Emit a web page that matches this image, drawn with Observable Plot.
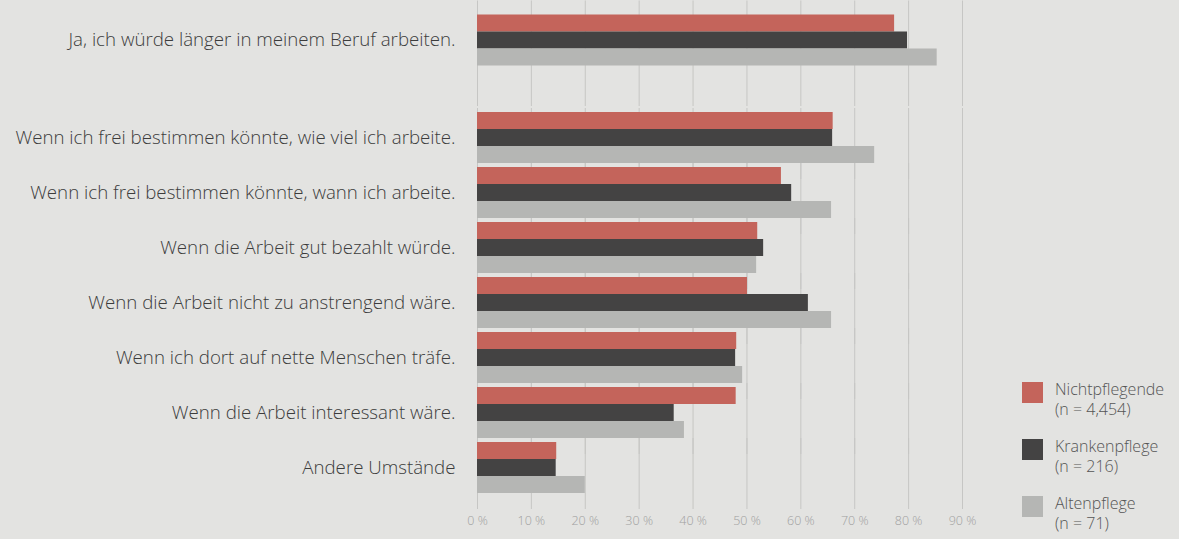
<!DOCTYPE html>
<html><head><meta charset="utf-8">
<script src="https://cdn.jsdelivr.net/npm/d3@7"></script>
<script src="https://cdn.jsdelivr.net/npm/@observablehq/plot@0.6"></script>
<style>
html,body{margin:0;padding:0;background:#e3e3e1;}
#wrap{position:relative;width:1179px;height:539px;overflow:hidden;font-family:"Open Sans",Lato,sans-serif;}
#top,#bottom{position:absolute;left:0;}
#top{top:0}
#bottom{top:106px}
#legend{position:absolute;left:1022px;top:379px;}
.item{display:flex;align-items:flex-start;height:57px;}
.sw{width:21px;height:21px;margin-right:12px;margin-top:3px;flex:none}
.lbl{font-size:16px;line-height:20px;color:#555;font-weight:300;}
</style></head><body>
<div id="wrap"><div id="top"></div><div id="bottom"></div><div id="legend"></div></div>
<script>
const categories = [
  "Ja, ich würde länger in meinem Beruf arbeiten.",
  "Wenn ich frei bestimmen könnte, wie viel ich arbeite.",
  "Wenn ich frei bestimmen könnte, wann ich arbeite.",
  "Wenn die Arbeit gut bezahlt würde.",
  "Wenn die Arbeit nicht zu anstrengend wäre.",
  "Wenn ich dort auf nette Menschen träfe.",
  "Wenn die Arbeit interessant wäre.",
  "Andere Umstände"
];
const series = ["Nichtpflegende", "Krankenpflege", "Altenpflege"];
const seriesN = ["(n = 4,454)", "(n = 216)", "(n = 71)"];
const nichtpflegende = [77.4, 66.0, 56.4, 52.0, 50.1, 48.1, 48.0, 14.7];
const krankenpflege  = [79.8, 65.9, 58.3, 53.1, 61.4, 47.9, 36.5, 14.6];
const altenpflege    = [85.3, 73.7, 65.7, 51.8, 65.7, 49.2, 38.4, 20.0];
const xTicks = [0, 10, 20, 30, 40, 50, 60, 70, 80, 90];
const colors = ["#c4645b", "#444343", "#b5b6b4"];

const values = [nichtpflegende, krankenpflege, altenpflege];
const rows = categories.flatMap((c, i) => series.map((s, j) => ({category: c, series: s, value: values[j][i]})));

function makePlot(cats, height, marginTop, marginBottom, insetTop, insetBottom, showX) {
  const p = Plot.plot({
    width: 990, height, marginLeft: 477, marginRight: 28, marginTop, marginBottom,
    style: {background: "transparent", fontFamily: "'Open Sans', Lato, sans-serif", fontSize: "18px", color: "#404040", overflow: "visible"},
    x: {domain: [0, 90], axis: showX ? "bottom" : null, ticks: xTicks, tickFormat: d => d + " %", tickSize: 0, tickPadding: 21, label: null},
    y: {domain: series, axis: null, paddingInner: 0.02, paddingOuter: 0.1},
    fy: {domain: cats, paddingInner: 0, paddingOuter: 0, label: null, tickSize: 0, tickPadding: 22, axis: "left"},
    color: {domain: series, range: colors},
    marks: [
      Plot.ruleX(xTicks, {x: d => d, stroke: "#c6c6c4", strokeWidth: 1, insetTop, insetBottom}),
      Plot.barX(rows.filter(r => cats.includes(r.category)), {x: "value", y: "series", fy: "category", fill: "series"})
    ]
  });
  const svg = d3.select(p);
  svg.selectAll('g[aria-label^="fy-axis"] text').attr("font-weight", 300).attr("fill", "#3c3c3c").style("font-size", "18.7px");
  svg.selectAll('g[aria-label^="x-axis"] text').attr("font-weight", 300).attr("fill", "#a0a0a0").style("font-size", "12.5px");
  return p;
}

document.getElementById("top").appendChild(makePlot(categories.slice(0, 1), 106, 11.5, 39, -11.5, -39, false));
document.getElementById("bottom").appendChild(makePlot(categories.slice(1), 433, 2, 42.5, -2, -14, true));

const legend = d3.select("#legend");
series.forEach((s, j) => {
  const it = legend.append("div").attr("class", "item");
  it.append("div").attr("class", "sw").style("background", colors[j]);
  const l = it.append("div").attr("class", "lbl");
  l.append("div").text(s);
  l.append("div").text(seriesN[j]);
});
</script>
</body></html>
